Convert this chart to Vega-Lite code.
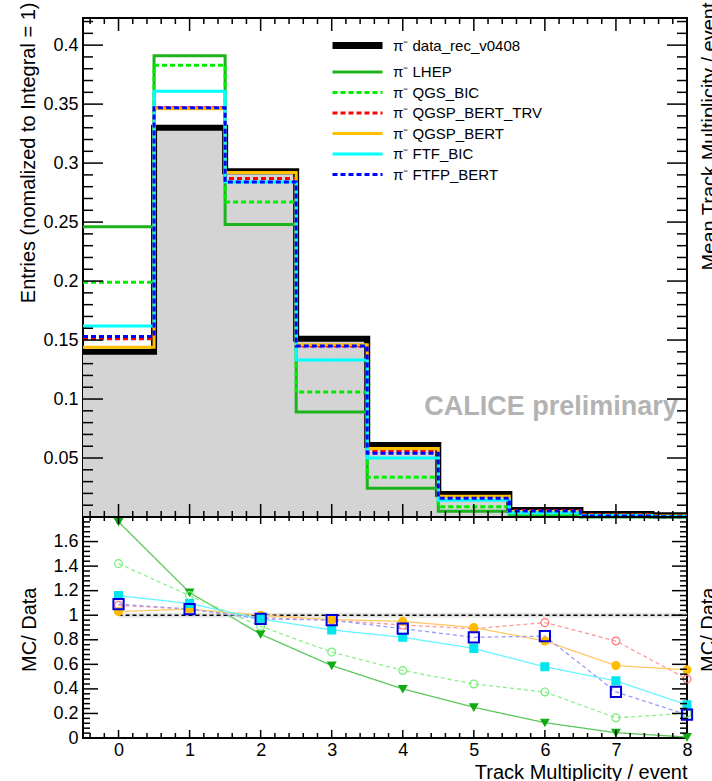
{
  "$schema": "https://vega.github.io/schema/vega-lite/v6.json",
  "width": 604,
  "height": 720,
  "autosize": {"type": "none"},
  "padding": {"left": 83, "top": 18, "right": 25, "bottom": 43},
  "background": "white",
  "datasets": {
    "h": [
      {"s": "data_rec_v0408", "bin": 0, "x0": -0.5, "x1": 0.5, "v": 0.140},
      {"s": "data_rec_v0408", "bin": 1, "x0": 0.5, "x1": 1.5, "v": 0.330},
      {"s": "data_rec_v0408", "bin": 2, "x0": 1.5, "x1": 2.5, "v": 0.293},
      {"s": "data_rec_v0408", "bin": 3, "x0": 2.5, "x1": 3.5, "v": 0.151},
      {"s": "data_rec_v0408", "bin": 4, "x0": 3.5, "x1": 4.5, "v": 0.061},
      {"s": "data_rec_v0408", "bin": 5, "x0": 4.5, "x1": 5.5, "v": 0.0195},
      {"s": "data_rec_v0408", "bin": 6, "x0": 5.5, "x1": 6.5, "v": 0.006},
      {"s": "data_rec_v0408", "bin": 7, "x0": 6.5, "x1": 7.5, "v": 0.0025},
      {"s": "data_rec_v0408", "bin": 8, "x0": 7.5, "x1": 8.5, "v": 0.0015},
      {"s": "LHEP", "bin": 0, "x0": -0.5, "x1": 0.5, "v": 0.246, "r": 1.76},
      {"s": "LHEP", "bin": 1, "x0": 0.5, "x1": 1.5, "v": 0.391, "r": 1.185},
      {"s": "LHEP", "bin": 2, "x0": 1.5, "x1": 2.5, "v": 0.248, "r": 0.845},
      {"s": "LHEP", "bin": 3, "x0": 2.5, "x1": 3.5, "v": 0.089, "r": 0.59},
      {"s": "LHEP", "bin": 4, "x0": 3.5, "x1": 4.5, "v": 0.0244, "r": 0.40},
      {"s": "LHEP", "bin": 5, "x0": 4.5, "x1": 5.5, "v": 0.0049, "r": 0.25},
      {"s": "LHEP", "bin": 6, "x0": 5.5, "x1": 6.5, "v": 0.00075, "r": 0.125},
      {"s": "LHEP", "bin": 7, "x0": 6.5, "x1": 7.5, "v": 0.0001, "r": 0.043},
      {"s": "LHEP", "bin": 8, "x0": 7.5, "x1": 8.5, "v": 0.00001, "r": 0.008},
      {"s": "QGS_BIC", "bin": 0, "x0": -0.5, "x1": 0.5, "v": 0.199, "r": 1.42},
      {"s": "QGS_BIC", "bin": 1, "x0": 0.5, "x1": 1.5, "v": 0.383, "r": 1.16},
      {"s": "QGS_BIC", "bin": 2, "x0": 1.5, "x1": 2.5, "v": 0.267, "r": 0.91},
      {"s": "QGS_BIC", "bin": 3, "x0": 2.5, "x1": 3.5, "v": 0.106, "r": 0.70},
      {"s": "QGS_BIC", "bin": 4, "x0": 3.5, "x1": 4.5, "v": 0.0336, "r": 0.55},
      {"s": "QGS_BIC", "bin": 5, "x0": 4.5, "x1": 5.5, "v": 0.0086, "r": 0.44},
      {"s": "QGS_BIC", "bin": 6, "x0": 5.5, "x1": 6.5, "v": 0.00225, "r": 0.375},
      {"s": "QGS_BIC", "bin": 7, "x0": 6.5, "x1": 7.5, "v": 0.0004, "r": 0.165},
      {"s": "QGS_BIC", "bin": 8, "x0": 7.5, "x1": 8.5, "v": 0.0003, "r": 0.20},
      {"s": "QGSP_BERT_TRV", "bin": 0, "x0": -0.5, "x1": 0.5, "v": 0.151, "r": 1.08},
      {"s": "QGSP_BERT_TRV", "bin": 1, "x0": 0.5, "x1": 1.5, "v": 0.347, "r": 1.05},
      {"s": "QGSP_BERT_TRV", "bin": 2, "x0": 1.5, "x1": 2.5, "v": 0.287, "r": 0.98},
      {"s": "QGSP_BERT_TRV", "bin": 3, "x0": 2.5, "x1": 3.5, "v": 0.145, "r": 0.96},
      {"s": "QGSP_BERT_TRV", "bin": 4, "x0": 3.5, "x1": 4.5, "v": 0.056, "r": 0.92},
      {"s": "QGSP_BERT_TRV", "bin": 5, "x0": 4.5, "x1": 5.5, "v": 0.0174, "r": 0.89},
      {"s": "QGSP_BERT_TRV", "bin": 6, "x0": 5.5, "x1": 6.5, "v": 0.0056, "r": 0.94},
      {"s": "QGSP_BERT_TRV", "bin": 7, "x0": 6.5, "x1": 7.5, "v": 0.002, "r": 0.79},
      {"s": "QGSP_BERT_TRV", "bin": 8, "x0": 7.5, "x1": 8.5, "v": 0.0007, "r": 0.48},
      {"s": "QGSP_BERT", "bin": 0, "x0": -0.5, "x1": 0.5, "v": 0.144, "r": 1.03},
      {"s": "QGSP_BERT", "bin": 1, "x0": 0.5, "x1": 1.5, "v": 0.346, "r": 1.05},
      {"s": "QGSP_BERT", "bin": 2, "x0": 1.5, "x1": 2.5, "v": 0.292, "r": 1.0},
      {"s": "QGSP_BERT", "bin": 3, "x0": 2.5, "x1": 3.5, "v": 0.146, "r": 0.965},
      {"s": "QGSP_BERT", "bin": 4, "x0": 3.5, "x1": 4.5, "v": 0.058, "r": 0.95},
      {"s": "QGSP_BERT", "bin": 5, "x0": 4.5, "x1": 5.5, "v": 0.0176, "r": 0.90},
      {"s": "QGSP_BERT", "bin": 6, "x0": 5.5, "x1": 6.5, "v": 0.0047, "r": 0.79},
      {"s": "QGSP_BERT", "bin": 7, "x0": 6.5, "x1": 7.5, "v": 0.0015, "r": 0.59},
      {"s": "QGSP_BERT", "bin": 8, "x0": 7.5, "x1": 8.5, "v": 0.0008, "r": 0.555},
      {"s": "FTF_BIC", "bin": 0, "x0": -0.5, "x1": 0.5, "v": 0.162, "r": 1.16},
      {"s": "FTF_BIC", "bin": 1, "x0": 0.5, "x1": 1.5, "v": 0.361, "r": 1.095},
      {"s": "FTF_BIC", "bin": 2, "x0": 1.5, "x1": 2.5, "v": 0.284, "r": 0.97},
      {"s": "FTF_BIC", "bin": 3, "x0": 2.5, "x1": 3.5, "v": 0.133, "r": 0.88},
      {"s": "FTF_BIC", "bin": 4, "x0": 3.5, "x1": 4.5, "v": 0.050, "r": 0.82},
      {"s": "FTF_BIC", "bin": 5, "x0": 4.5, "x1": 5.5, "v": 0.0142, "r": 0.73},
      {"s": "FTF_BIC", "bin": 6, "x0": 5.5, "x1": 6.5, "v": 0.0035, "r": 0.58},
      {"s": "FTF_BIC", "bin": 7, "x0": 6.5, "x1": 7.5, "v": 0.0012, "r": 0.465},
      {"s": "FTF_BIC", "bin": 8, "x0": 7.5, "x1": 8.5, "v": 0.0004, "r": 0.27},
      {"s": "FTFP_BERT", "bin": 0, "x0": -0.5, "x1": 0.5, "v": 0.153, "r": 1.09},
      {"s": "FTFP_BERT", "bin": 1, "x0": 0.5, "x1": 1.5, "v": 0.347, "r": 1.05},
      {"s": "FTFP_BERT", "bin": 2, "x0": 1.5, "x1": 2.5, "v": 0.284, "r": 0.97},
      {"s": "FTFP_BERT", "bin": 3, "x0": 2.5, "x1": 3.5, "v": 0.145, "r": 0.96},
      {"s": "FTFP_BERT", "bin": 4, "x0": 3.5, "x1": 4.5, "v": 0.054, "r": 0.89},
      {"s": "FTFP_BERT", "bin": 5, "x0": 4.5, "x1": 5.5, "v": 0.016, "r": 0.82},
      {"s": "FTFP_BERT", "bin": 6, "x0": 5.5, "x1": 6.5, "v": 0.005, "r": 0.83},
      {"s": "FTFP_BERT", "bin": 7, "x0": 6.5, "x1": 7.5, "v": 0.0009, "r": 0.375},
      {"s": "FTFP_BERT", "bin": 8, "x0": 7.5, "x1": 8.5, "v": 0.0003, "r": 0.19}
    ]
  },
  "layer": [
    {
      "layer": [
        {
          "data": {"name": "h"},
          "transform": [{"filter": "datum.s === 'data_rec_v0408'"}, {"fold": ["x0", "x1"], "as": ["k", "xe"]}],
          "mark": {"type": "area", "color": "#d4d4d4", "clip": true},
          "encoding": {
            "x": {"field": "xe", "type": "quantitative", "scale": {"domain": [-0.5, 8], "nice": false, "zero": false}, "axis": null},
            "y": {"field": "v", "type": "quantitative", "stack": null,
              "scale": {"domain": [0, 0.423], "range": [499, 0], "nice": false, "zero": false},
              "axis": {"orient": "left", "values": [0.05,0.1,0.15,0.2,0.25,0.3,0.35,0.4], "labelPadding": 5, "format": "~g",
                "title": "Entries (nomalized to Integral = 1)", "titleAngle": 270, "titleAlign": "right", "titleBaseline": "alphabetic", "titleX": -49, "titleY": -16}},
            "order": [{"field": "bin", "type": "quantitative"}, {"field": "k", "type": "ordinal"}]
          }
        },
        {
          "data": {"name": "h"},
          "transform": [{"filter": "datum.s === 'data_rec_v0408'"}, {"fold": ["x0", "x1"], "as": ["k", "xe"]}],
          "mark": {"type": "line", "color": "#000", "strokeWidth": 6, "clip": true, "strokeCap": "butt", "strokeJoin": "miter"},
          "encoding": {
            "x": {"field": "xe", "type": "quantitative", "scale": {"domain": [-0.5, 8], "nice": false, "zero": false}, "axis": null},
            "y": {"field": "v", "type": "quantitative", "scale": {"domain": [0, 0.423], "range": [499, 0], "nice": false, "zero": false}, "axis": null},
            "order": [{"field": "bin", "type": "quantitative"}, {"field": "k", "type": "ordinal"}]
          }
        }
      ],
      "resolve": {"scale": {"y": "independent"}, "axis": {"x": "independent", "y": "independent"}}
    },
    {
      "data": {"name": "h"},
      "transform": [{"filter": "datum.s !== 'data_rec_v0408'"}, {"fold": ["x0", "x1"], "as": ["k", "xe"]}],
      "mark": {"type": "line", "clip": true, "strokeWidth": 3, "strokeCap": "butt", "strokeJoin": "miter"},
      "encoding": {
        "x": {"field": "xe", "type": "quantitative", "scale": {"domain": [-0.5, 8], "nice": false, "zero": false}, "axis": null},
        "y": {"field": "v", "type": "quantitative",
          "scale": {"domain": [0, 0.423], "range": [499, 0], "nice": false, "zero": false},
          "axis": {"orient": "right", "values": [0.2], "labels": false,
            "title": "Mean Track Multiplicity / event", "titleAngle": 270, "titleAlign": "right", "titleBaseline": "alphabetic", "titleX": 28, "titleY": -16}},
        "color": {"field": "s", "type": "nominal",
          "scale": {"domain": ["data_rec_v0408","LHEP","QGS_BIC","QGSP_BERT_TRV","QGSP_BERT","FTF_BIC","FTFP_BERT"],
                    "range": ["#000000","#1db31d","#00ee00","#ff0000","#ffc000","#00ffff","#0000ff"]},
          "legend": {"orient": "none", "legendX": 267, "legendY": 20, "title": null, "symbolType": "M-5,0H5", "symbolSize": 100, "labelOffset": 28, "labelFontSize": 15, "labelFont": "Liberation Sans", "rowPadding": 4.5, "padding": 0, "labelExpr": "'π⁻ ' + datum.label",
            "encode": {"symbols": {"update": {"strokeWidth": {"signal": "datum.value === 'data_rec_v0408' ? 7 : 3"}}}}}},
        "strokeDash": {"field": "s", "type": "nominal",
          "scale": {"domain": ["data_rec_v0408","LHEP","QGS_BIC","QGSP_BERT_TRV","QGSP_BERT","FTF_BIC","FTFP_BERT"],
                    "range": [[1,0],[1,0],[5,3],[5,3],[1,0],[1,0],[5,3]]},
          "legend": {"orient": "none", "legendX": 267, "legendY": 20, "title": null, "symbolType": "M-5,0H5", "symbolSize": 100, "labelOffset": 28, "labelFontSize": 15, "labelFont": "Liberation Sans", "rowPadding": 4.5, "padding": 0, "labelExpr": "'π⁻ ' + datum.label",
            "encode": {"symbols": {"update": {"strokeWidth": {"signal": "datum.value === 'data_rec_v0408' ? 7 : 3"}}}}}},
        "order": [{"field": "bin", "type": "quantitative"}, {"field": "k", "type": "ordinal"}]
      }
    },
    {
      "data": {"values": [{"label": "CALICE preliminary"}]},
      "mark": {"type": "text", "font": "Liberation Sans", "fontSize": 27, "fontWeight": "bold", "color": "#b3b3b3", "align": "right", "baseline": "alphabetic"},
      "encoding": {
        "text": {"field": "label"},
        "x": {"datum": 7.87, "type": "quantitative", "scale": {"domain": [-0.5, 8], "nice": false, "zero": false}, "axis": null},
        "y": {"datum": 0.0865, "type": "quantitative", "scale": {"domain": [0, 0.423], "range": [499, 0], "nice": false, "zero": false}, "axis": null}
      }
    },
    {
      "layer": [
        {
          "data": {"values": [{"ref": 1}]},
          "mark": {"type": "rule", "color": "#e6e6e6", "strokeWidth": 5},
          "encoding": {
            "x": {"datum": 0, "type": "quantitative", "scale": {"domain": [-0.5, 8], "nice": false, "zero": false}, "axis": null},
            "x2": {"datum": 8},
            "y": {"field": "ref", "type": "quantitative",
              "scale": {"domain": [0, 1.8], "range": [720, 499], "nice": false, "zero": false},
              "axis": {"orient": "left", "values": [0,0.2,0.4,0.6,0.8,1,1.2,1.4,1.6], "labelPadding": 5, "format": "~g",
                "title": "MC/ Data", "titleAngle": 270, "titleAlign": "right", "titleBaseline": "alphabetic", "titleX": -48, "titleY": 569}}
          }
        },
        {
          "data": {"values": [{"ref": 1}]},
          "mark": {"type": "rule", "color": "#000", "strokeWidth": 1.5, "strokeDash": [4, 3]},
          "encoding": {
            "x": {"datum": 0, "type": "quantitative", "scale": {"domain": [-0.5, 8], "nice": false, "zero": false}, "axis": null},
            "x2": {"datum": 8},
            "y": {"field": "ref", "type": "quantitative", "scale": {"domain": [0, 1.8], "range": [720, 499], "nice": false, "zero": false}, "axis": null}
          }
        }
      ],
      "resolve": {"scale": {"y": "independent"}, "axis": {"x": "independent", "y": "independent"}}
    },
    {
      "data": {"name": "h"},
      "transform": [{"filter": "datum.s !== 'data_rec_v0408'"}],
      "mark": {"type": "line", "strokeWidth": 1.3},
      "encoding": {
        "x": {"field": "bin", "type": "quantitative",
          "scale": {"domain": [-0.5, 8], "nice": false, "zero": false},
          "axis": {"orient": "bottom", "values": [0,1,2,3,4,5,6,7,8], "labelPadding": 3, "format": "d",
            "title": "Track Multiplicity / event", "titleAlign": "right", "titleAnchor": "end", "titleBaseline": "alphabetic", "titleX": 604, "titleY": 40}},
        "y": {"field": "r", "type": "quantitative",
          "scale": {"domain": [0, 1.8], "range": [720, 499], "nice": false, "zero": false},
          "axis": {"orient": "right", "values": [1], "labels": false,
            "title": "MC/ Data", "titleAngle": 270, "titleAlign": "right", "titleBaseline": "alphabetic", "titleX": 27, "titleY": 569}},
        "color": {"field": "s", "type": "nominal",
          "scale": {"domain": ["LHEP","QGS_BIC","QGSP_BERT_TRV","QGSP_BERT","FTF_BIC","FTFP_BERT"],
                    "range": ["#5cc85c","#8df08d","#ff9a9a","#ffc966","#66f5ff","#9a9aff"]},
          "legend": null},
        "strokeDash": {"field": "s", "type": "nominal",
          "scale": {"domain": ["LHEP","QGS_BIC","QGSP_BERT_TRV","QGSP_BERT","FTF_BIC","FTFP_BERT"],
                    "range": [[1,0],[4,3],[4,3],[1,0],[1,0],[4,3]]},
          "legend": null}
      }
    },
    {
      "data": {"name": "h"},
      "transform": [{"filter": "datum.s !== 'data_rec_v0408'"}],
      "mark": {"type": "point", "opacity": 1},
      "encoding": {
        "x": {"field": "bin", "type": "quantitative", "scale": {"domain": [-0.5, 8], "nice": false, "zero": false}, "axis": null},
        "y": {"field": "r", "type": "quantitative", "scale": {"domain": [0, 1.8], "range": [720, 499], "nice": false, "zero": false}, "axis": null},
        "shape": {"field": "s", "type": "nominal",
          "scale": {"domain": ["LHEP","QGS_BIC","QGSP_BERT_TRV","QGSP_BERT","FTF_BIC","FTFP_BERT"],
                    "range": ["triangle-down","circle","circle","circle","square","square"]}, "legend": null},
        "fill": {"field": "s", "type": "nominal",
          "scale": {"domain": ["LHEP","QGS_BIC","QGSP_BERT_TRV","QGSP_BERT","FTF_BIC","FTFP_BERT"],
                    "range": ["#11aa11","transparent","transparent","#ffbb00","#00e5ee","transparent"]}, "legend": null},
        "stroke": {"field": "s", "type": "nominal",
          "scale": {"domain": ["LHEP","QGS_BIC","QGSP_BERT_TRV","QGSP_BERT","FTF_BIC","FTFP_BERT"],
                    "range": ["#11aa11","#77ee77","#ff7777","#ffbb00","#00e5ee","#0000dd"]}, "legend": null},
        "size": {"condition": {"test": "datum.s === 'FTFP_BERT'", "value": 105}, "value": 62},
        "strokeWidth": {"condition": {"test": "datum.s === 'FTFP_BERT'", "value": 2}, "value": 1.2}
      }
    },
    {
      "data": {"values": [{"ref": 0}]},
      "mark": {"type": "rule", "color": "#000", "strokeWidth": 2},
      "encoding": {
        "x": {"datum": -0.5, "type": "quantitative", "scale": {"domain": [-0.5, 8], "nice": false, "zero": false}, "axis": null},
        "x2": {"datum": 8},
        "y": {"field": "ref", "type": "quantitative", "scale": {"domain": [0, 0.423], "range": [499, 0], "nice": false, "zero": false}, "axis": null}
      }
    },
    {
      "layer": [
        {"data": {"values": [{"t":0.05},{"t":0.1},{"t":0.15},{"t":0.2},{"t":0.25},{"t":0.3},{"t":0.35},{"t":0.4}]},
          "mark": {"type": "rule", "color": "#000", "strokeWidth": 1.5},
          "encoding": {"x": {"datum": -0.5, "type": "quantitative", "scale": {"domain": [-0.5, 8], "nice": false, "zero": false}, "axis": null}, "x2": {"datum": -0.21854},
            "y": {"field": "t", "type": "quantitative", "scale": {"domain": [0, 0.423], "range": [499, 0], "nice": false, "zero": false}, "axis": null}}},
        {"data": {"values": [{"t":0.01},{"t":0.02},{"t":0.03},{"t":0.04},{"t":0.06},{"t":0.07},{"t":0.08},{"t":0.09},{"t":0.11},{"t":0.12},{"t":0.13},{"t":0.14},{"t":0.16},{"t":0.17},{"t":0.18},{"t":0.19},{"t":0.21},{"t":0.22},{"t":0.23},{"t":0.24},{"t":0.26},{"t":0.27},{"t":0.28},{"t":0.29},{"t":0.31},{"t":0.32},{"t":0.33},{"t":0.34},{"t":0.36},{"t":0.37},{"t":0.38},{"t":0.39},{"t":0.41},{"t":0.42}]},
          "mark": {"type": "rule", "color": "#000", "strokeWidth": 1.5},
          "encoding": {"x": {"datum": -0.5, "type": "quantitative", "scale": {"domain": [-0.5, 8], "nice": false, "zero": false}, "axis": null}, "x2": {"datum": -0.35927},
            "y": {"field": "t", "type": "quantitative", "scale": {"domain": [0, 0.423], "range": [499, 0], "nice": false, "zero": false}, "axis": null}}},
        {"data": {"values": [{"t":0.05},{"t":0.1},{"t":0.15},{"t":0.2},{"t":0.25},{"t":0.3},{"t":0.35},{"t":0.4}]},
          "mark": {"type": "rule", "color": "#000", "strokeWidth": 1.5},
          "encoding": {"x": {"datum": 8, "type": "quantitative", "scale": {"domain": [-0.5, 8], "nice": false, "zero": false}, "axis": null}, "x2": {"datum": 7.71854},
            "y": {"field": "t", "type": "quantitative", "scale": {"domain": [0, 0.423], "range": [499, 0], "nice": false, "zero": false}, "axis": null}}},
        {"data": {"values": [{"t":0.01},{"t":0.02},{"t":0.03},{"t":0.04},{"t":0.06},{"t":0.07},{"t":0.08},{"t":0.09},{"t":0.11},{"t":0.12},{"t":0.13},{"t":0.14},{"t":0.16},{"t":0.17},{"t":0.18},{"t":0.19},{"t":0.21},{"t":0.22},{"t":0.23},{"t":0.24},{"t":0.26},{"t":0.27},{"t":0.28},{"t":0.29},{"t":0.31},{"t":0.32},{"t":0.33},{"t":0.34},{"t":0.36},{"t":0.37},{"t":0.38},{"t":0.39},{"t":0.41},{"t":0.42}]},
          "mark": {"type": "rule", "color": "#000", "strokeWidth": 1.5},
          "encoding": {"x": {"datum": 8, "type": "quantitative", "scale": {"domain": [-0.5, 8], "nice": false, "zero": false}, "axis": null}, "x2": {"datum": 7.85927},
            "y": {"field": "t", "type": "quantitative", "scale": {"domain": [0, 0.423], "range": [499, 0], "nice": false, "zero": false}, "axis": null}}},
        {"data": {"values": [{"t":0.2},{"t":0.4},{"t":0.6},{"t":0.8},{"t":1},{"t":1.2},{"t":1.4},{"t":1.6}]},
          "mark": {"type": "rule", "color": "#000", "strokeWidth": 1.5},
          "encoding": {"x": {"datum": -0.5, "type": "quantitative", "scale": {"domain": [-0.5, 8], "nice": false, "zero": false}, "axis": null}, "x2": {"datum": -0.28891},
            "y": {"field": "t", "type": "quantitative", "scale": {"domain": [0, 1.8], "range": [720, 499], "nice": false, "zero": false}, "axis": null}}},
        {"data": {"values": [{"t":0.04},{"t":0.08},{"t":0.12},{"t":0.16},{"t":0.24},{"t":0.28},{"t":0.32},{"t":0.36},{"t":0.44},{"t":0.48},{"t":0.52},{"t":0.56},{"t":0.64},{"t":0.68},{"t":0.72},{"t":0.76},{"t":0.84},{"t":0.88},{"t":0.92},{"t":0.96},{"t":1.04},{"t":1.08},{"t":1.12},{"t":1.16},{"t":1.24},{"t":1.28},{"t":1.32},{"t":1.36},{"t":1.44},{"t":1.48},{"t":1.52},{"t":1.56},{"t":1.64},{"t":1.68},{"t":1.72},{"t":1.76}]},
          "mark": {"type": "rule", "color": "#000", "strokeWidth": 1.5},
          "encoding": {"x": {"datum": -0.5, "type": "quantitative", "scale": {"domain": [-0.5, 8], "nice": false, "zero": false}, "axis": null}, "x2": {"datum": -0.40149},
            "y": {"field": "t", "type": "quantitative", "scale": {"domain": [0, 1.8], "range": [720, 499], "nice": false, "zero": false}, "axis": null}}},
        {"data": {"values": [{"t":0.2},{"t":0.4},{"t":0.6},{"t":0.8},{"t":1},{"t":1.2},{"t":1.4},{"t":1.6}]},
          "mark": {"type": "rule", "color": "#000", "strokeWidth": 1.5},
          "encoding": {"x": {"datum": 8, "type": "quantitative", "scale": {"domain": [-0.5, 8], "nice": false, "zero": false}, "axis": null}, "x2": {"datum": 7.78891},
            "y": {"field": "t", "type": "quantitative", "scale": {"domain": [0, 1.8], "range": [720, 499], "nice": false, "zero": false}, "axis": null}}},
        {"data": {"values": [{"t":0.04},{"t":0.08},{"t":0.12},{"t":0.16},{"t":0.24},{"t":0.28},{"t":0.32},{"t":0.36},{"t":0.44},{"t":0.48},{"t":0.52},{"t":0.56},{"t":0.64},{"t":0.68},{"t":0.72},{"t":0.76},{"t":0.84},{"t":0.88},{"t":0.92},{"t":0.96},{"t":1.04},{"t":1.08},{"t":1.12},{"t":1.16},{"t":1.24},{"t":1.28},{"t":1.32},{"t":1.36},{"t":1.44},{"t":1.48},{"t":1.52},{"t":1.56},{"t":1.64},{"t":1.68},{"t":1.72},{"t":1.76}]},
          "mark": {"type": "rule", "color": "#000", "strokeWidth": 1.5},
          "encoding": {"x": {"datum": 8, "type": "quantitative", "scale": {"domain": [-0.5, 8], "nice": false, "zero": false}, "axis": null}, "x2": {"datum": 7.90149},
            "y": {"field": "t", "type": "quantitative", "scale": {"domain": [0, 1.8], "range": [720, 499], "nice": false, "zero": false}, "axis": null}}},
        {"data": {"values": [{"t":0},{"t":1},{"t":2},{"t":3},{"t":4},{"t":5},{"t":6},{"t":7}]},
          "mark": {"type": "rule", "color": "#000", "strokeWidth": 1.5},
          "encoding": {"x": {"field": "t", "type": "quantitative", "scale": {"domain": [-0.5, 8], "nice": false, "zero": false}, "axis": null},
            "y": {"datum": 0.423, "type": "quantitative", "scale": {"domain": [0, 0.423], "range": [499, 0], "nice": false, "zero": false}, "axis": null}, "y2": {"datum": 0.41198}}},
        {"data": {"values": [{"t":-0.4},{"t":-0.2},{"t":0.2},{"t":0.4},{"t":0.6},{"t":0.8},{"t":1.2},{"t":1.4},{"t":1.6},{"t":1.8},{"t":2.2},{"t":2.4},{"t":2.6},{"t":2.8},{"t":3.2},{"t":3.4},{"t":3.6},{"t":3.8},{"t":4.2},{"t":4.4},{"t":4.6},{"t":4.8},{"t":5.2},{"t":5.4},{"t":5.6},{"t":5.8},{"t":6.2},{"t":6.4},{"t":6.6},{"t":6.8},{"t":7.2},{"t":7.4},{"t":7.6},{"t":7.8}]},
          "mark": {"type": "rule", "color": "#000", "strokeWidth": 1.5},
          "encoding": {"x": {"field": "t", "type": "quantitative", "scale": {"domain": [-0.5, 8], "nice": false, "zero": false}, "axis": null},
            "y": {"datum": 0.423, "type": "quantitative", "scale": {"domain": [0, 0.423], "range": [499, 0], "nice": false, "zero": false}, "axis": null}, "y2": {"datum": 0.417914}}},
        {"data": {"values": [{"t":0},{"t":1},{"t":2},{"t":3},{"t":4},{"t":5},{"t":6},{"t":7}]},
          "mark": {"type": "rule", "color": "#000", "strokeWidth": 1.5},
          "encoding": {"x": {"field": "t", "type": "quantitative", "scale": {"domain": [-0.5, 8], "nice": false, "zero": false}, "axis": null},
            "y": {"datum": 0, "type": "quantitative", "scale": {"domain": [0, 0.423], "range": [499, 0], "nice": false, "zero": false}, "axis": null}, "y2": {"datum": 0.01102}}},
        {"data": {"values": [{"t":-0.4},{"t":-0.2},{"t":0.2},{"t":0.4},{"t":0.6},{"t":0.8},{"t":1.2},{"t":1.4},{"t":1.6},{"t":1.8},{"t":2.2},{"t":2.4},{"t":2.6},{"t":2.8},{"t":3.2},{"t":3.4},{"t":3.6},{"t":3.8},{"t":4.2},{"t":4.4},{"t":4.6},{"t":4.8},{"t":5.2},{"t":5.4},{"t":5.6},{"t":5.8},{"t":6.2},{"t":6.4},{"t":6.6},{"t":6.8},{"t":7.2},{"t":7.4},{"t":7.6},{"t":7.8}]},
          "mark": {"type": "rule", "color": "#000", "strokeWidth": 1.5},
          "encoding": {"x": {"field": "t", "type": "quantitative", "scale": {"domain": [-0.5, 8], "nice": false, "zero": false}, "axis": null},
            "y": {"datum": 0, "type": "quantitative", "scale": {"domain": [0, 0.423], "range": [499, 0], "nice": false, "zero": false}, "axis": null}, "y2": {"datum": 0.005086}}},
        {"data": {"values": [{"t":0},{"t":1},{"t":2},{"t":3},{"t":4},{"t":5},{"t":6},{"t":7}]},
          "mark": {"type": "rule", "color": "#000", "strokeWidth": 1.5},
          "encoding": {"x": {"field": "t", "type": "quantitative", "scale": {"domain": [-0.5, 8], "nice": false, "zero": false}, "axis": null},
            "y": {"datum": 1.8, "type": "quantitative", "scale": {"domain": [0, 1.8], "range": [720, 499], "nice": false, "zero": false}, "axis": null}, "y2": {"datum": 1.74299}}},
        {"data": {"values": [{"t":-0.4},{"t":-0.2},{"t":0.2},{"t":0.4},{"t":0.6},{"t":0.8},{"t":1.2},{"t":1.4},{"t":1.6},{"t":1.8},{"t":2.2},{"t":2.4},{"t":2.6},{"t":2.8},{"t":3.2},{"t":3.4},{"t":3.6},{"t":3.8},{"t":4.2},{"t":4.4},{"t":4.6},{"t":4.8},{"t":5.2},{"t":5.4},{"t":5.6},{"t":5.8},{"t":6.2},{"t":6.4},{"t":6.6},{"t":6.8},{"t":7.2},{"t":7.4},{"t":7.6},{"t":7.8}]},
          "mark": {"type": "rule", "color": "#000", "strokeWidth": 1.5},
          "encoding": {"x": {"field": "t", "type": "quantitative", "scale": {"domain": [-0.5, 8], "nice": false, "zero": false}, "axis": null},
            "y": {"datum": 1.8, "type": "quantitative", "scale": {"domain": [0, 1.8], "range": [720, 499], "nice": false, "zero": false}, "axis": null}, "y2": {"datum": 1.76742}}},
        {"data": {"values": [{"t":0},{"t":1},{"t":2},{"t":3},{"t":4},{"t":5},{"t":6},{"t":7}]},
          "mark": {"type": "rule", "color": "#000", "strokeWidth": 1.5},
          "encoding": {"x": {"field": "t", "type": "quantitative", "scale": {"domain": [-0.5, 8], "nice": false, "zero": false}, "axis": null},
            "y": {"datum": 0, "type": "quantitative", "scale": {"domain": [0, 1.8], "range": [720, 499], "nice": false, "zero": false}, "axis": null}, "y2": {"datum": 0.06516}}},
        {"data": {"values": [{"t":-0.4},{"t":-0.2},{"t":0.2},{"t":0.4},{"t":0.6},{"t":0.8},{"t":1.2},{"t":1.4},{"t":1.6},{"t":1.8},{"t":2.2},{"t":2.4},{"t":2.6},{"t":2.8},{"t":3.2},{"t":3.4},{"t":3.6},{"t":3.8},{"t":4.2},{"t":4.4},{"t":4.6},{"t":4.8},{"t":5.2},{"t":5.4},{"t":5.6},{"t":5.8},{"t":6.2},{"t":6.4},{"t":6.6},{"t":6.8},{"t":7.2},{"t":7.4},{"t":7.6},{"t":7.8}]},
          "mark": {"type": "rule", "color": "#000", "strokeWidth": 1.5},
          "encoding": {"x": {"field": "t", "type": "quantitative", "scale": {"domain": [-0.5, 8], "nice": false, "zero": false}, "axis": null},
            "y": {"datum": 0, "type": "quantitative", "scale": {"domain": [0, 1.8], "range": [720, 499], "nice": false, "zero": false}, "axis": null}, "y2": {"datum": 0.04072}}}
      ],
      "resolve": {"scale": {"y": "independent"}, "axis": {"x": "independent", "y": "independent"}}
    }
  ],
  "resolve": {
    "scale": {"y": "independent", "color": "independent", "strokeDash": "independent"},
    "axis": {"x": "independent", "y": "independent"}
  },
  "config": {
    "font": "Liberation Sans",
    "view": {"stroke": "#000", "strokeWidth": 2},
    "axis": {"domain": false, "ticks": false, "tickSize": 0, "grid": false,
      "labelFont": "Liberation Sans", "labelFontSize": 18, "labelColor": "#000",
      "titleFont": "Liberation Sans", "titleFontSize": 20, "titleFontWeight": "normal", "titleColor": "#000",
      "labelFlush": false, "labelOverlap": false, "labelBound": false},
    "legend": {"labelFont": "Liberation Sans", "labelFontSize": 15, "labelColor": "#000"}
  }
}
